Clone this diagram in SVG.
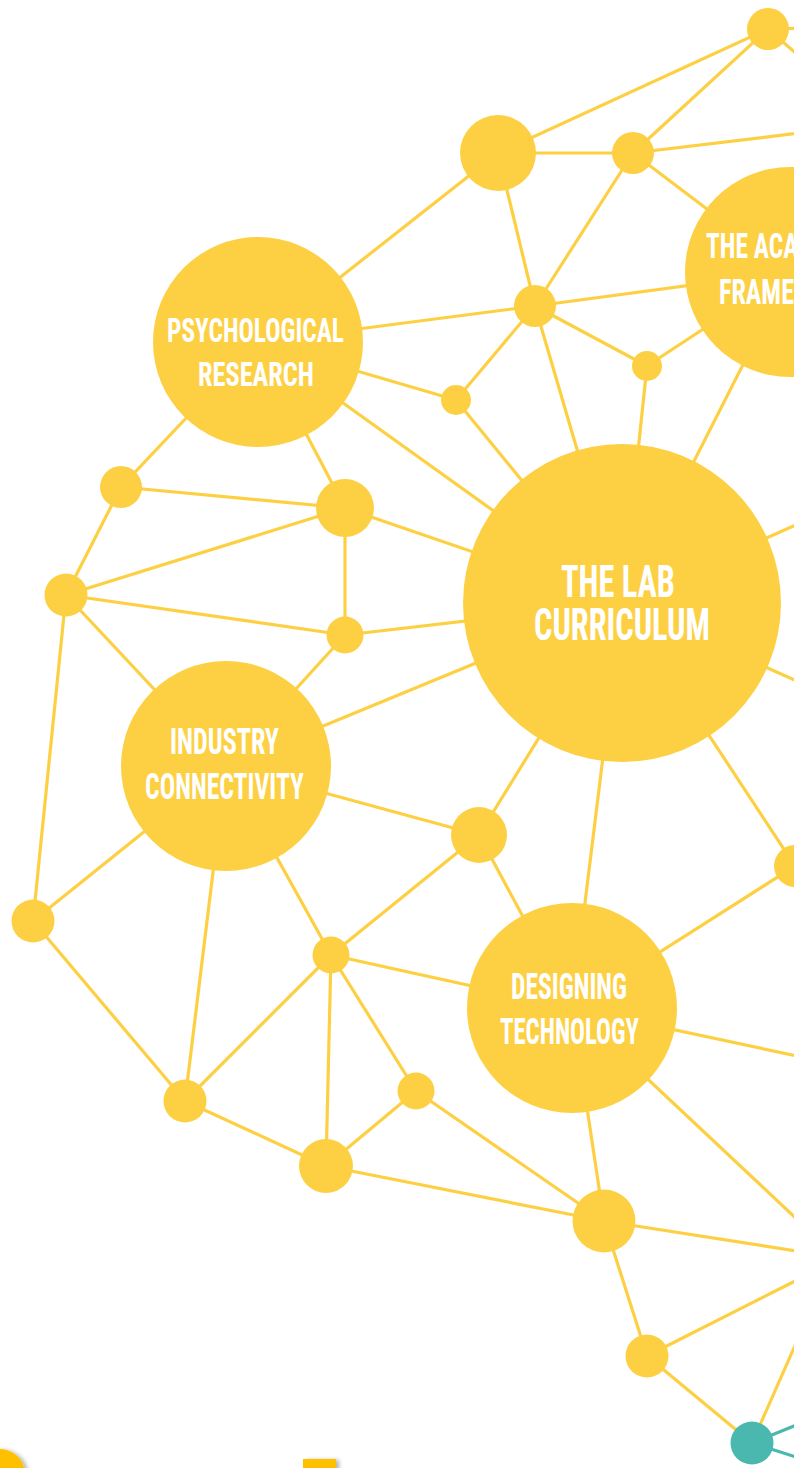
<svg xmlns="http://www.w3.org/2000/svg" width="794" height="1468" viewBox="0 0 794 1468">
<defs>
<style>
.e{stroke:#FDD043;stroke-width:3.2;fill:none;stroke-linecap:round}
.t{stroke:#4BB8B0;stroke-width:3.2;fill:none}
.n{fill:#FDD043}
.tn{fill:#4BB8B0}
.lbl{fill:#FFFFFF;font-family:"Liberation Sans Narrow","Roboto Condensed","DejaVu Sans Condensed","Liberation Sans",sans-serif;font-weight:bold}
.orange{fill:#FFC000}
</style>
<filter id="sh" x="-50%" y="-50%" width="200%" height="200%">
<feDropShadow dx="3" dy="1" stdDeviation="2" flood-color="#000" flood-opacity="0.3"/>
</filter>
</defs>
<rect width="794" height="1468" fill="#FFFFFF"/>
<g id="connectors">
<line class="e" x1="768" y1="29" x2="498" y2="153"/>
<line class="e" x1="768" y1="29" x2="633" y2="153"/>
<line class="e" x1="768" y1="29" x2="840" y2="27"/>
<line class="e" x1="768" y1="29" x2="850" y2="100"/>
<line class="e" x1="498" y1="153" x2="633" y2="153"/>
<line class="e" x1="498" y1="153" x2="258" y2="342"/>
<line class="e" x1="498" y1="153" x2="535" y2="306"/>
<line class="e" x1="633" y1="153" x2="535" y2="306"/>
<line class="e" x1="633" y1="153" x2="900" y2="121"/>
<line class="e" x1="633" y1="153" x2="790" y2="272"/>
<line class="e" x1="535" y1="306" x2="258" y2="342"/>
<line class="e" x1="535" y1="306" x2="790" y2="272"/>
<line class="e" x1="535" y1="306" x2="647" y2="366"/>
<line class="e" x1="535" y1="306" x2="456" y2="400"/>
<line class="e" x1="535" y1="306" x2="622" y2="603"/>
<line class="e" x1="647" y1="366" x2="790" y2="272"/>
<line class="e" x1="647" y1="366" x2="622" y2="603"/>
<line class="e" x1="456" y1="400" x2="258" y2="342"/>
<line class="e" x1="456" y1="400" x2="622" y2="603"/>
<line class="e" x1="790" y1="272" x2="622" y2="603"/>
<line class="e" x1="258" y1="342" x2="121" y2="487"/>
<line class="e" x1="258" y1="342" x2="345" y2="508"/>
<line class="e" x1="258" y1="342" x2="622" y2="603"/>
<line class="e" x1="121" y1="487" x2="345" y2="508"/>
<line class="e" x1="121" y1="487" x2="66" y2="595"/>
<line class="e" x1="345" y1="508" x2="66" y2="595"/>
<line class="e" x1="345" y1="508" x2="345" y2="635"/>
<line class="e" x1="345" y1="508" x2="622" y2="603"/>
<line class="e" x1="66" y1="595" x2="345" y2="635"/>
<line class="e" x1="66" y1="595" x2="226" y2="766"/>
<line class="e" x1="66" y1="595" x2="33" y2="921"/>
<line class="e" x1="345" y1="635" x2="622" y2="603"/>
<line class="e" x1="345" y1="635" x2="226" y2="766"/>
<line class="e" x1="622" y1="603" x2="226" y2="766"/>
<line class="e" x1="622" y1="603" x2="479" y2="835"/>
<line class="e" x1="622" y1="603" x2="572" y2="1008"/>
<line class="e" x1="622" y1="603" x2="795" y2="866"/>
<line class="e" x1="622" y1="603" x2="900" y2="478"/>
<line class="e" x1="622" y1="603" x2="900" y2="727"/>
<line class="e" x1="226" y1="766" x2="33" y2="921"/>
<line class="e" x1="226" y1="766" x2="479" y2="835"/>
<line class="e" x1="226" y1="766" x2="331" y2="955"/>
<line class="e" x1="226" y1="766" x2="185" y2="1101"/>
<line class="e" x1="33" y1="921" x2="185" y2="1101"/>
<line class="e" x1="479" y1="835" x2="331" y2="955"/>
<line class="e" x1="479" y1="835" x2="572" y2="1008"/>
<line class="e" x1="795" y1="866" x2="572" y2="1008"/>
<line class="e" x1="331" y1="955" x2="572" y2="1008"/>
<line class="e" x1="331" y1="955" x2="185" y2="1101"/>
<line class="e" x1="331" y1="955" x2="326" y2="1166"/>
<line class="e" x1="331" y1="955" x2="416" y2="1091"/>
<line class="e" x1="572" y1="1008" x2="900" y2="1078"/>
<line class="e" x1="572" y1="1008" x2="900" y2="1316"/>
<line class="e" x1="572" y1="1008" x2="604" y2="1221"/>
<line class="e" x1="185" y1="1101" x2="326" y2="1166"/>
<line class="e" x1="416" y1="1091" x2="326" y2="1166"/>
<line class="e" x1="416" y1="1091" x2="604" y2="1221"/>
<line class="e" x1="326" y1="1166" x2="604" y2="1221"/>
<line class="e" x1="604" y1="1221" x2="900" y2="1267"/>
<line class="e" x1="604" y1="1221" x2="647" y2="1356"/>
<line class="e" x1="647" y1="1356" x2="900" y2="1228"/>
<line class="e" x1="647" y1="1356" x2="752" y2="1443"/>
<line class="e" x1="752" y1="1443" x2="820" y2="1289"/>
<line class="t" x1="752" y1="1443" x2="900" y2="1383"/>
<line class="t" x1="752" y1="1443" x2="900" y2="1490"/>
</g>
<g id="n1"><circle class="n" cx="768" cy="29" r="21"/></g>
<g id="n2"><circle class="n" cx="498" cy="153" r="38"/></g>
<g id="n3"><circle class="n" cx="633" cy="153" r="21"/></g>
<g id="academic"><circle class="n" cx="790" cy="272" r="105"/>
<text class="lbl" x="706" y="258" font-size="35" textLength="160" lengthAdjust="spacingAndGlyphs">THE ACADEMIC</text>
<text class="lbl" x="719" y="304" font-size="35" textLength="139" lengthAdjust="spacingAndGlyphs">FRAMEWORK</text></g>
<g id="n5"><circle class="n" cx="535" cy="306" r="21"/></g>
<g id="n6"><circle class="n" cx="647" cy="366" r="15"/></g>
<g id="n7"><circle class="n" cx="456" cy="400" r="15"/></g>
<g id="psych"><circle class="n" cx="258" cy="342" r="105"/>
<text class="lbl" x="167" y="342" font-size="33.5" textLength="177" lengthAdjust="spacingAndGlyphs">PSYCHOLOGICAL</text>
<text class="lbl" x="198" y="386" font-size="33.5" textLength="116" lengthAdjust="spacingAndGlyphs">RESEARCH</text></g>
<g id="n8"><circle class="n" cx="121" cy="487" r="21"/></g>
<g id="n9"><circle class="n" cx="345" cy="508" r="29"/></g>
<g id="n10"><circle class="n" cx="66" cy="595" r="21.5"/></g>
<g id="n11"><circle class="n" cx="345" cy="635" r="18.5"/></g>
<g id="lab"><circle class="n" cx="622" cy="603" r="159"/>
<text class="lbl" x="561" y="597" font-size="44.5" textLength="114" lengthAdjust="spacingAndGlyphs">THE LAB</text>
<text class="lbl" x="534" y="640" font-size="44.5" textLength="176" lengthAdjust="spacingAndGlyphs">CURRICULUM</text></g>
<g id="industry"><circle class="n" cx="226" cy="766" r="105"/>
<text class="lbl" x="170" y="754" font-size="36" textLength="109" lengthAdjust="spacingAndGlyphs">INDUSTRY</text>
<text class="lbl" x="145" y="799" font-size="36" textLength="159" lengthAdjust="spacingAndGlyphs">CONNECTIVITY</text></g>
<g id="n12"><circle class="n" cx="33" cy="921" r="21.5"/></g>
<g id="n13"><circle class="n" cx="479" cy="835" r="28"/></g>
<g id="n14"><circle class="n" cx="795" cy="866" r="21"/></g>
<g id="n15"><circle class="n" cx="331" cy="955" r="18.5"/></g>
<g id="designing"><circle class="n" cx="572" cy="1008" r="105"/>
<text class="lbl" x="511" y="999" font-size="36" textLength="116" lengthAdjust="spacingAndGlyphs">DESIGNING</text>
<text class="lbl" x="500" y="1044" font-size="36" textLength="139" lengthAdjust="spacingAndGlyphs">TECHNOLOGY</text></g>
<g id="n16"><circle class="n" cx="185" cy="1101" r="21.5"/></g>
<g id="n17"><circle class="n" cx="416" cy="1091" r="18.5"/></g>
<g id="n18"><circle class="n" cx="326" cy="1166" r="27"/></g>
<g id="n19"><circle class="n" cx="604" cy="1221" r="31.5"/></g>
<g id="n20"><circle class="n" cx="647" cy="1356" r="21.5"/></g>
<g id="n21"><circle class="tn" cx="752" cy="1443" r="21.5"/></g>
<g id="bottom-shapes">
<circle class="orange" cx="0" cy="1474" r="25" filter="url(#sh)"/>
<rect class="orange" x="303" y="1459" width="33" height="20" filter="url(#sh)"/>
</g>
</svg>
